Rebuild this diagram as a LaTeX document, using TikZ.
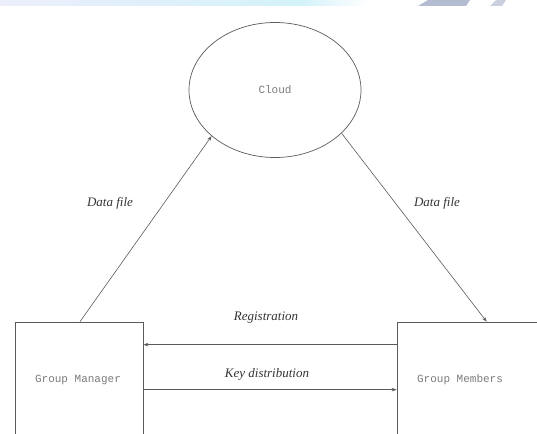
\documentclass[tikz,border=0pt]{standalone}
\usepackage{fontspec}
\usetikzlibrary{shapes.geometric,arrows.meta}
\newfontfamily\boxfont{Liberation Mono}
\setmainfont{Liberation Serif}
\definecolor{linegray}{HTML}{5A5A5A}
\definecolor{textgray}{HTML}{7A7A7A}
\definecolor{bandblue}{HTML}{ECEEFB}
\definecolor{bandcyan}{HTML}{D3F2FA}
\definecolor{patchgray}{HTML}{B4BCD2}

\begin{document}
\begin{tikzpicture}[x=1pt,y=-1pt,
    entity/.style ={rectangle, draw=linegray, line width=0.7pt, inner sep=0pt},
    storage/.style ={ellipse, draw=linegray, line width=0.7pt, inner sep=0pt,
      minimum width=172pt, minimum height=135pt, text=textgray,
      font=\boxfont\fontsize{11}{13}\selectfont},
    entitytext/.style ={text=textgray, font=\boxfont\fontsize{11}{13}\selectfont},
    flowlabel/.style ={text=black!80, font=\itshape\fontsize{13}{15}\selectfont},
    flow/.style ={draw=linegray, line width=0.6pt, -{Stealth[length=5pt,width=3.5pt]}}]
   \useasboundingbox (0,0) rectangle (537,433);
   \clip (0,0) rectangle (537,433);
   % banner strip at the top
   \shade[left color=bandblue, right color=bandcyan] (0,0) rectangle (300,6);
   \shade[left color=bandcyan, right color=white] (300,0) rectangle (370,6);
   \fill[patchgray] (418,6) -- (428,0) -- (470,0) -- (466,6) -- cycle;
   \fill[patchgray!70] (490,6) -- (496,0) -- (506,0) -- (502,6) -- cycle;
   % entities
   \node[storage] (cloud) at (275,90) {Cloud};
   \node[entity, minimum width=128pt, minimum height=130pt] (manager) at (79,387) {};
   \node[entity, minimum width=150pt, minimum height=130pt] (members) at (472,387) {};
   \node[entitytext] (managertext) at (78,380) {Group Manager};
   \node[entitytext] (memberstext) at (460,380) {Group Members};
   % flows
   \draw[flow] ([xshift=1pt]manager.north) to (cloud.216);
   \draw[flow] (cloud.-33) to ([xshift=90pt]members.north west);
   \draw[flow] ([yshift=-23pt]members.north west) to ([yshift=-23pt]manager.north east);
   \draw[flow] ([yshift=-68pt]manager.north east) to ([yshift=-68pt]members.north west);
   \node[flowlabel] (lblup) at (110,203) {Data file};
   \node[flowlabel] (lbldown) at (437,203) {Data file};
   \node[flowlabel] (lblreg) at (266,318) {Registration};
   \node[flowlabel] (lblkey) at (267,374) {Key distribution};
 \end{tikzpicture}
\end{document}
